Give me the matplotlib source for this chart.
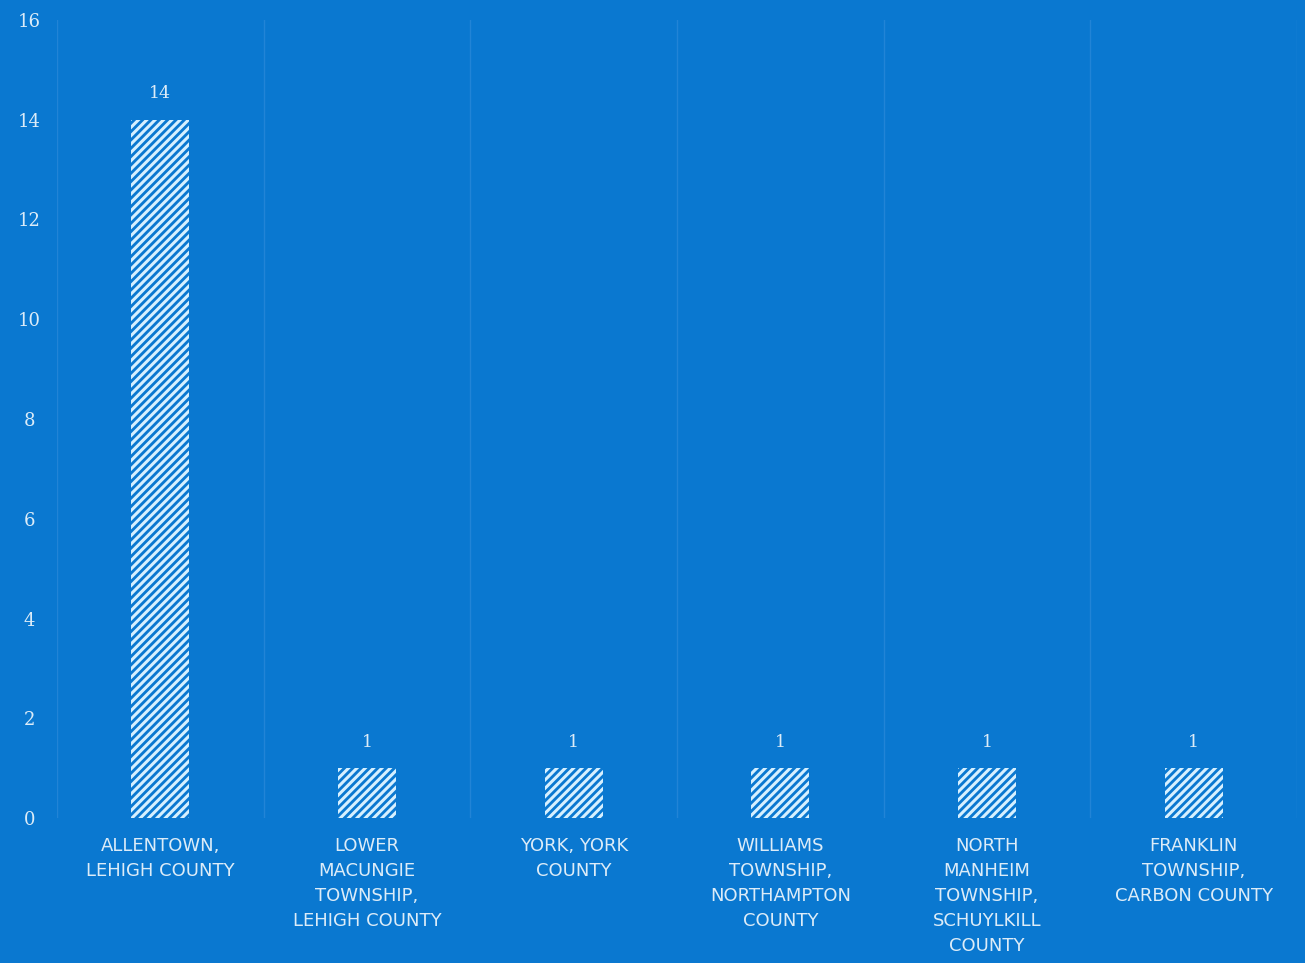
import matplotlib.pyplot as plt
import numpy as np

# data
places = ['ALLENTOWN,\nLEHIGH COUNTY',
          'LOWER\nMACUNGIE\nTOWNSHIP,\nLEHIGH COUNTY',
          'YORK, YORK\nCOUNTY',
          'WILLIAMS\nTOWNSHIP,\nNORTHAMPTON\nCOUNTY',
          'NORTH\nMANHEIM\nTOWNSHIP,\nSCHUYLKILL\nCOUNTY',
          'FRANKLIN\nTOWNSHIP,\nCARBON COUNTY']
counts = [14, 1, 1, 1, 1, 1]
y_ticks = [0, 2, 4, 6, 8, 10, 12, 14, 16]

bg = '#0a78d0'
txt = '#dcecf8'
plt.rcParams['hatch.linewidth'] = 2.2

fig = plt.figure(figsize=(13.05, 9.63), dpi=100, facecolor=bg)
ax = fig.add_axes([57 / 1305, 1 - 818 / 963, 1240 / 1305, 798 / 963])
ax.set_facecolor(bg)

x = np.arange(len(places))
bars = ax.bar(x, counts, width=0.28, color=bg, edgecolor='#d6f0ff',
              hatch='////', linewidth=0)
for xi, c in zip(x, counts):
    ax.text(xi, c + 0.35, str(c), ha='center', va='bottom', color=txt,
            fontsize=12.5, family='DejaVu Serif')

# faint separators between categories
for b in np.arange(-0.5, len(places), 1.0):
    ax.axvline(b, color='#2284d6', lw=1, zorder=0)

ax.set_xlim(-0.5, len(places) - 0.5)
ax.set_ylim(0, 16)
ax.set_yticks(y_ticks)
ax.set_yticklabels([str(t) for t in y_ticks], family='DejaVu Serif',
                   fontsize=13, color=txt, ha='center')
ax.set_xticks(x)
ax.set_xticklabels(places, fontsize=13, color=txt, linespacing=1.5,
                   va='top')
ax.tick_params(axis='y', length=0, pad=20)
ax.tick_params(axis='x', length=0, pad=14)
for s in ax.spines.values():
    s.set_visible(False)

fig.savefig('out.png', dpi=100, facecolor=bg)
